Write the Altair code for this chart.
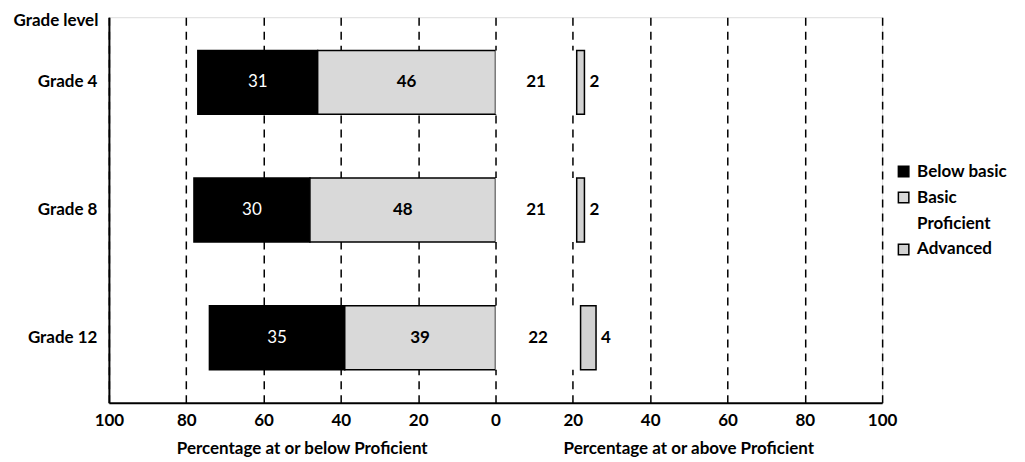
import altair as alt
import pandas as pd

grades = ["Grade 4", "Grade 8", "Grade 12"]
below_basic = [31, 30, 35]
basic = [46, 48, 39]
proficient = [21, 21, 22]
advanced = [2, 2, 4]
levels = ["Below basic", "Basic", "Proficient", "Advanced"]
tick_values = [-100, -80, -60, -40, -20, 0, 20, 40, 60, 80, 100]
side_titles = ["Percentage at or below Proficient", "Percentage at or above Proficient"]
side_centers = [-50, 50]

FONT = "Lato"

rows = []
for g, bb, b, p, a in zip(grades, below_basic, basic, proficient, advanced):
    rows.append(dict(grade=g, level="Below basic", value=bb, start=-(b + bb), end=-b))
    rows.append(dict(grade=g, level="Basic", value=b, start=-b, end=0))
    rows.append(dict(grade=g, level="Proficient", value=p, start=0, end=p))
    rows.append(dict(grade=g, level="Advanced", value=a, start=p, end=p + a))
df = pd.DataFrame(rows)
df["mid"] = (df["start"] + df["end"]) / 2

titles_df = pd.DataFrame({"t": side_titles, "x": side_centers})

xscale = alt.Scale(domain=[-100, 100], nice=False)
yscale = alt.Scale(domain=grades, paddingInner=0.5, paddingOuter=0.26)

x_axis = alt.Axis(
    values=tick_values, labelExpr="abs(datum.value)", title=None,
    grid=True, gridDash=[8, 6], gridColor="black", gridWidth=1.5, gridOpacity=1,
    ticks=False, domainColor="black", domainWidth=2,
    labelFont=FONT, labelFontSize=17, labelFontWeight="bold", labelColor="black",
    labelPadding=10, labelFlush=False,
)
y_axis = alt.Axis(
    title="Grade level", titleAngle=0, titleAlign="right", titleBaseline="middle",
    titleX=-11, titleY=3, titleFont=FONT, titleFontSize=17, titleFontWeight="bold",
    titleColor="black",
    grid=False, ticks=False, domainColor="black", domainWidth=2,
    labelFont=FONT, labelFontSize=17, labelFontWeight="bold", labelColor="black",
    labelPadding=12,
)

legend_kw = dict(
    title=None, orient="none", legendX=787, legendY=146,
    symbolType="square", symbolSize=110, symbolStrokeWidth=1.5,
    labelFont=FONT, labelFontSize=17, labelFontWeight="bold", labelColor="black",
    labelOffset=5, rowPadding=8,
)

bars = alt.Chart(df).mark_bar(strokeWidth=1.5).encode(
    x=alt.X("start:Q", scale=xscale, axis=x_axis),
    x2="end:Q",
    y=alt.Y("grade:N", scale=yscale, sort=grades, axis=y_axis),
    fill=alt.Fill(
        "level:N",
        scale=alt.Scale(domain=levels, range=["#000000", "#d9d9d9", "#ffffff", "#d2d2d2"]),
        legend=alt.Legend(**legend_kw),
    ),
    stroke=alt.Stroke(
        "level:N",
        scale=alt.Scale(domain=levels, range=["#000000", "#000000", "transparent", "#000000"]),
        legend=alt.Legend(**legend_kw),
    ),
)

lbl_below = alt.Chart(df).transform_filter(alt.datum.level == "Below basic").mark_text(
    font=FONT, fontSize=17, color="white", baseline="middle", align="center"
).encode(
    x=alt.X("mid:Q", scale=xscale), y=alt.Y("grade:N", scale=yscale, sort=grades),
    text="value:Q",
)

lbl_mid = alt.Chart(df).transform_filter(
    (alt.datum.level == "Basic") | (alt.datum.level == "Proficient")
).mark_text(
    font=FONT, fontSize=17, fontWeight="bold", color="black", baseline="middle", align="center"
).encode(
    x=alt.X("mid:Q", scale=xscale), y=alt.Y("grade:N", scale=yscale, sort=grades),
    text="value:Q",
)

lbl_adv = alt.Chart(df).transform_filter(alt.datum.level == "Advanced").mark_text(
    font=FONT, fontSize=17, fontWeight="bold", color="black", baseline="middle",
    align="left", dx=5,
).encode(
    x=alt.X("end:Q", scale=xscale), y=alt.Y("grade:N", scale=yscale, sort=grades),
    text="value:Q",
)

side = alt.Chart(titles_df).mark_text(
    font=FONT, fontSize=17, fontWeight="bold", color="black", baseline="middle", align="center"
).encode(
    x=alt.X("x:Q", scale=xscale), y=alt.value(432), text="t:N",
)

chart = alt.layer(bars, lbl_below, lbl_mid, lbl_adv, side).properties(
    width=774, height=386,
    autosize=alt.AutoSizeParams(type="none"),
    padding={"left": 101, "top": 9, "right": 135, "bottom": 58},
).configure_view(stroke=None).configure(background="white")

chart.save("out.html", embed_options={"renderer": "svg", "actions": False})
